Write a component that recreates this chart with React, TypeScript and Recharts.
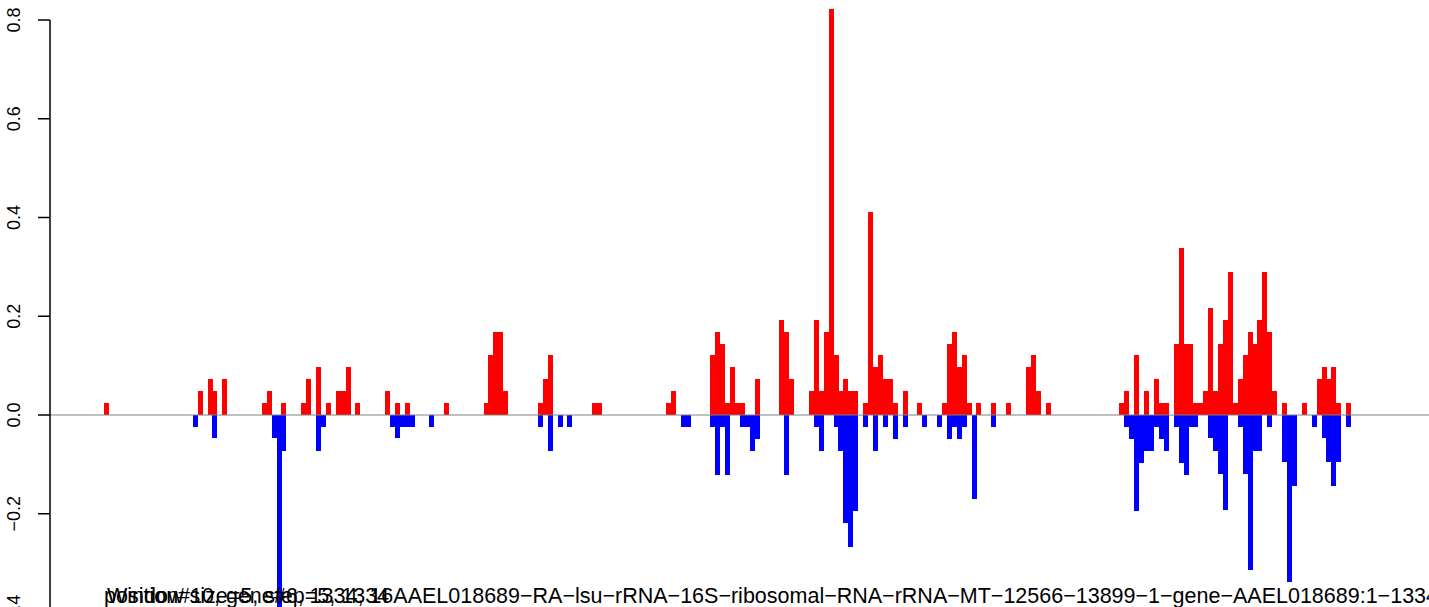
import React from 'react';
import { BarChart, Bar, XAxis, YAxis, ReferenceLine } from 'recharts';

// [window index, value] for each window that has a bar
const redBars: [number, number][] = [
  [0, 0.024], [19, 0.049], [21, 0.073], [22, 0.049], [24, 0.073],
  [32, 0.024], [33, 0.049], [36, 0.024], [40, 0.024], [41, 0.073], [43, 0.097],
  [45, 0.024], [47, 0.049], [48, 0.049], [49, 0.097], [51, 0.024],
  [57, 0.049], [59, 0.024], [61, 0.024], [69, 0.024],
  [77, 0.024], [78, 0.122], [79, 0.168], [80, 0.168], [81, 0.049],
  [88, 0.024], [89, 0.073], [90, 0.122], [99, 0.024], [100, 0.024],
  [114, 0.024], [115, 0.049],
  [123, 0.122], [124, 0.168], [125, 0.144], [126, 0.024], [127, 0.097], [128, 0.024], [129, 0.024],
  [132, 0.073], [137, 0.192], [138, 0.168], [139, 0.073],
  [143, 0.049], [144, 0.192], [145, 0.049], [146, 0.168], [147, 0.822], [148, 0.122],
  [149, 0.049], [150, 0.073], [151, 0.049], [152, 0.049],
  [154, 0.024], [155, 0.411], [156, 0.097], [157, 0.122], [158, 0.073], [159, 0.073], [160, 0.024],
  [162, 0.049], [165, 0.024],
  [170, 0.024], [171, 0.144], [172, 0.168], [173, 0.097], [174, 0.122], [175, 0.024],
  [177, 0.024], [180, 0.024], [183, 0.024],
  [187, 0.097], [188, 0.122], [189, 0.049], [191, 0.024],
  [206, 0.024], [207, 0.049], [209, 0.122], [211, 0.049], [213, 0.073], [214, 0.024], [215, 0.024],
  [217, 0.144], [218, 0.338], [219, 0.144], [220, 0.144], [221, 0.024], [222, 0.024],
  [223, 0.049], [224, 0.217], [225, 0.049], [226, 0.144], [227, 0.192], [228, 0.29],
  [229, 0.024], [230, 0.073], [231, 0.122], [232, 0.168], [233, 0.144], [234, 0.192],
  [235, 0.29], [236, 0.168], [237, 0.049], [239, 0.024], [243, 0.024],
  [246, 0.073], [247, 0.097], [248, 0.073], [249, 0.097], [250, 0.024], [252, 0.024],
];

const blueBars: [number, number][] = [
  [18, -0.024], [22, -0.047], [34, -0.047], [35, -0.41], [36, -0.072],
  [43, -0.072], [44, -0.024],
  [58, -0.024], [59, -0.047], [60, -0.024], [61, -0.024], [62, -0.024], [66, -0.024],
  [88, -0.024], [90, -0.072], [92, -0.024], [94, -0.024],
  [117, -0.024], [118, -0.024],
  [123, -0.024], [124, -0.121], [125, -0.024], [126, -0.121],
  [129, -0.024], [130, -0.024], [131, -0.072], [132, -0.048], [138, -0.121],
  [144, -0.024], [145, -0.072], [148, -0.024], [149, -0.072],
  [150, -0.218], [151, -0.267], [152, -0.194],
  [154, -0.024], [156, -0.072], [158, -0.024], [160, -0.048], [162, -0.024],
  [166, -0.024], [169, -0.024], [171, -0.048], [172, -0.024], [173, -0.048], [174, -0.024],
  [176, -0.17], [180, -0.024],
  [207, -0.024], [208, -0.048], [209, -0.194], [210, -0.097], [211, -0.072], [212, -0.072],
  [213, -0.024], [214, -0.048], [215, -0.072], [217, -0.024], [218, -0.097], [219, -0.121],
  [220, -0.024], [221, -0.024], [224, -0.047], [225, -0.072], [226, -0.12], [227, -0.192],
  [230, -0.024], [231, -0.12], [232, -0.314], [233, -0.072], [234, -0.072], [236, -0.024],
  [239, -0.096], [240, -0.339], [241, -0.144],
  [245, -0.024], [247, -0.047], [248, -0.096], [249, -0.144], [250, -0.096], [252, -0.024],
];

const windowCount = 269;
const yTicks = [-0.4, -0.2, 0, 0.2, 0.4, 0.6, 0.8];
const yTickLabels = ['\u22120.4', '\u22120.2', '0.0', '0.2', '0.4', '0.6', '0.8'];

const infoText = 'Window size=5, step=5, 1334';
const nameText =
  'position#10, gene#6, 1334, 16AAEL018689\u2212RA\u2212lsu\u2212rRNA\u221216S\u2212ribosomal\u2212RNA\u2212rRNA\u2212MT\u221212566\u221213899\u22121\u2212gene\u2212AAEL018689:1\u22121334';

// layout
const W = 1429;
const H = 607;
const CHART_H = 640;
const ZERO_Y = 415;
const PX_PER_UNIT = 493.75;
const AXIS_X = 50;
const FONT = '"Liberation Sans", Arial, Helvetica, sans-serif';

const data = Array.from({ length: windowCount }, (_, i) => ({ win: i + 1, pos: 0, neg: 0 }));
redBars.forEach(([i, v]) => {
  data[i].pos = v;
});
blueBars.forEach(([i, v]) => {
  data[i].neg = v;
});

const YTick = (props: any) => {
  const { x, y, payload } = props;
  const idx = yTicks.indexOf(payload.value);
  return (
    <g>
      <line x1={x - 12} y1={y} x2={x} y2={y} stroke="#000" strokeWidth={1.5} />
      {idx < yTicks.length - 1 && (
        <line x1={x} y1={y} x2={x} y2={y - 0.2 * PX_PER_UNIT} stroke="#000" strokeWidth={1.5} />
      )}
      <text
        x={x - 30}
        y={y}
        transform={`rotate(-90, ${x - 30}, ${y})`}
        textAnchor="middle"
        fontSize={18}
        fontFamily={FONT}
        fill="#000"
      >
        {yTickLabels[idx]}
      </text>
    </g>
  );
};

export default function App() {
  return (
    <div
      style={{
        position: 'absolute',
        left: 0,
        top: 0,
        width: W,
        height: H,
        overflow: 'hidden',
        background: '#fff',
      }}
    >
      <style>{`.recharts-bar-rectangle path{shape-rendering:crispEdges}`}</style>
      <BarChart
        width={W + 2}
        height={CHART_H}
        data={data}
        stackOffset="sign"
        barCategoryGap={0}
        barGap={0}
        margin={{ top: 0, right: 1, bottom: 0, left: 0 }}
      >
        <XAxis dataKey="win" hide padding={{ left: 104 - AXIS_X, right: 0 }} />
        <YAxis
          width={AXIS_X}
          domain={[-(CHART_H - ZERO_Y) / PX_PER_UNIT, ZERO_Y / PX_PER_UNIT]}
          ticks={yTicks}
          interval={0}
          axisLine={false}
          tickLine={false}
          tickSize={0}
          tickMargin={0}
          tick={<YTick />}
        />
        <Bar dataKey="pos" stackId="s" fill="#ff0000" isAnimationActive={false} />
        <Bar dataKey="neg" stackId="s" fill="#0000ff" isAnimationActive={false} />
        <ReferenceLine y={0} stroke="#808080" strokeWidth={1} />
      </BarChart>
      <svg
        width={W}
        height={H}
        style={{ position: 'absolute', left: 0, top: 0, pointerEvents: 'none' }}
      >
        <text x={107} y={603} fontSize={21.5} fontFamily={FONT} fill="#000">
          {infoText}
        </text>
        <text x={104} y={603} fontSize={21.5} fontFamily={FONT} fill="#000">
          {nameText}
        </text>
      </svg>
    </div>
  );
}
